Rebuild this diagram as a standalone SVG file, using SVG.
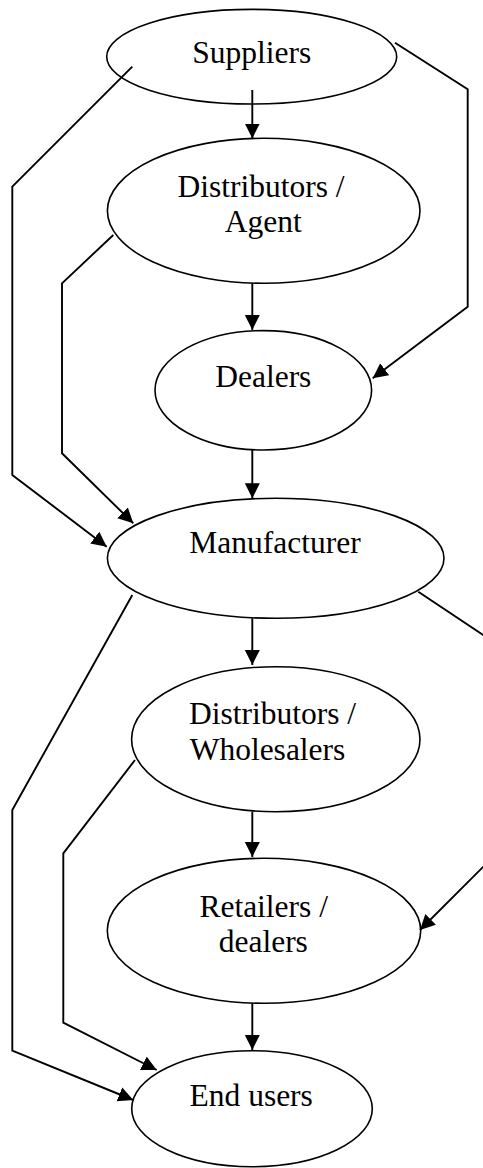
<svg xmlns="http://www.w3.org/2000/svg" width="483" height="1168" viewBox="0 0 483 1168">
  <style>
    .node ellipse { fill: #ffffff; stroke: #000000; stroke-width: 1.6; }
    .node text { font-family: "Liberation Serif", "Times New Roman", serif; font-size: 31.5px; fill: #000000; text-anchor: middle; }
    .edge { fill: none; stroke: #000000; stroke-width: 1.9; stroke-linejoin: miter; }
    .arrow { marker-end: url(#head); }
  </style>
  <defs>
    <marker id="head" markerUnits="userSpaceOnUse" markerWidth="16" markerHeight="16" viewBox="0 0 16 16" refX="15" refY="7.5" orient="auto">
      <path d="M0,0 L15,7.5 L0,15 Z" fill="#000000"/>
    </marker>
  </defs>

  <rect x="0" y="0" width="483" height="1168" fill="#ffffff"/>

  <!-- supply chain nodes -->
  <g id="suppliers" class="node">
    <ellipse cx="251.7" cy="56.7" rx="145" ry="47.3"/>
    <text x="251.7" y="63.3">Suppliers</text>
  </g>
  <g id="distributors-agent" class="node">
    <ellipse cx="263.7" cy="210.8" rx="156.3" ry="72.5"/>
    <text x="261" y="196.7">Distributors /</text>
    <text x="263.3" y="231.7">Agent</text>
  </g>
  <g id="dealers" class="node">
    <ellipse cx="263.3" cy="390.3" rx="108.3" ry="59.7"/>
    <text x="263.3" y="386.7">Dealers</text>
  </g>
  <g id="manufacturer" class="node">
    <ellipse cx="275.7" cy="558.3" rx="168.3" ry="60"/>
    <text x="275" y="553.3">Manufacturer</text>
  </g>
  <g id="distributors-wholesalers" class="node">
    <ellipse cx="275.8" cy="739.2" rx="144.2" ry="72.5"/>
    <text x="272.5" y="724.3">Distributors /</text>
    <text x="267.5" y="760">Wholesalers</text>
  </g>
  <g id="retailers-dealers" class="node">
    <ellipse cx="264" cy="930.8" rx="156.7" ry="72.5"/>
    <text x="263.7" y="916.7">Retailers /</text>
    <text x="263.3" y="951.7">dealers</text>
  </g>
  <g id="end-users" class="node">
    <ellipse cx="252" cy="1108.7" rx="120.3" ry="58"/>
    <text x="251.2" y="1106">End users</text>
  </g>

  <!-- flows between nodes -->
  <g id="connectors">
    <!-- main vertical chain -->
    <line class="edge arrow" x1="252.3" y1="90" x2="252.3" y2="138.5"/>
    <line class="edge arrow" x1="252.3" y1="283.3" x2="252.3" y2="330"/>
    <line class="edge arrow" x1="252.3" y1="450" x2="252.3" y2="498.3"/>
    <line class="edge arrow" x1="252.3" y1="618.3" x2="252.3" y2="665"/>
    <line class="edge arrow" x1="252.3" y1="811.7" x2="252.3" y2="857"/>
    <line class="edge arrow" x1="252.3" y1="1003.3" x2="252.3" y2="1050"/>

    <!-- bypass routes -->
    <polyline class="edge arrow" points="132.3,66.7 12.3,186.7 12.3,475 106.7,546.7"/>
    <polyline class="edge arrow" points="113.3,235 62,283.3 62,453.3 133.3,523.3"/>
    <polyline class="edge arrow" points="395,42.7 467.7,89.3 467.7,306.7 372.7,378.3"/>
    <polyline class="edge arrow" points="132.3,595 12.3,810 12.3,1050.7 133.3,1100"/>
    <polyline class="edge arrow" points="135,760 63.3,853.3 63.3,1022.7 156.7,1070"/>
    <polyline class="edge arrow" points="418.3,591.7 492,641 492,858 420,930"/>
  </g>
</svg>
